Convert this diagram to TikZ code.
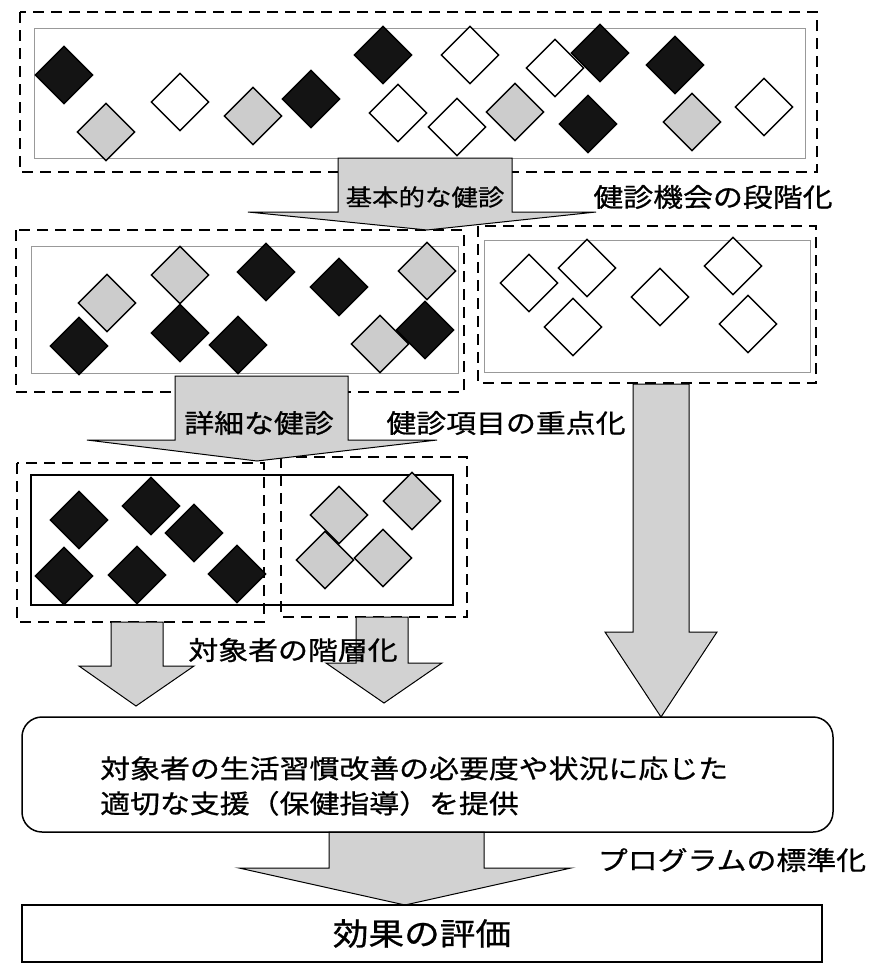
\documentclass[tikz,border=0pt]{standalone}
\usepackage{fontspec}
\newfontfamily\jpfont[FakeStretch=1.15,FakeBold=0.8]{Noto Sans CJK JP}
\usetikzlibrary{shapes.geometric}
\usetikzlibrary{positioning}

\begin{document}
\begin{tikzpicture}[x=1pt,y=-1pt,
    dia/.style={diamond,aspect=1,minimum size=58pt,inner sep=0pt,draw,line width=1.4pt},
    blk dia/.style={dia,fill=black!92},
    gry dia/.style={dia,fill=gray!40},
    wht dia/.style={dia,fill=white},
    dash box/.style={draw,line width=2.2pt,dash pattern=on 11pt off 7pt},
    in box/.style={draw=gray!80,line width=1pt},
    blk arrow/.style={draw,line width=1pt,fill=gray!35},
    lbl node/.style={font=\jpfont\fontsize{26}{35}\selectfont,inner sep=0pt}
    ]
    \useasboundingbox (0,0) rectangle (878,964);

    % step 1: all
    \draw[dash box] (20,12) rectangle (817,172);
    \draw[in box] (34,28) rectangle (805,158);
    \node[wht dia](a1) at (180,102){};
    \node[wht dia](a2) at (470,55){};
    \node[wht dia](a3) at (555,68){};
    \node[wht dia](a4) at (398,113){};
    \node[wht dia](a5) at (457,127){};
    \node[wht dia](a6) at (764,107){};
    \node[blk dia](a7) at (64,75){};
    \node[blk dia](a8) at (311,99){};
    \node[blk dia](a9) at (383,55){};
    \node[blk dia](a10) at (600,53){};
    \node[blk dia](a11) at (675,65){};
    \node[blk dia](a12) at (588,124){};
    \node[gry dia](a13) at (106,132){};
    \node[gry dia](a14) at (253,116){};
    \node[gry dia](a15) at (515,112){};
    \node[gry dia](a16) at (692,122){};

    % step 2: basic check
    \draw[dash box] (16,230) rectangle (464,392);
    \draw[in box] (31,246) rectangle (458,373);
    \draw[dash box] (478,226) rectangle (816,383);
    \draw[in box] (484,240) rectangle (810,372);
    \node[blk dia](b1) at (266,272){};
    \node[blk dia](b2) at (339,287){};
    \node[blk dia](b3) at (79,346){};
    \node[blk dia](b4) at (180,333){};
    \node[blk dia](b5) at (238,345){};
    \node[blk dia](b6) at (425,330){};
    \node[gry dia](b7) at (107,303){};
    \node[gry dia](b8) at (180,275){};
    \node[gry dia](b9) at (427,271){};
    \node[gry dia](b10) at (380,344){};
    \node[wht dia](b11) at (529,283){};
    \node[wht dia](b12) at (587,268){};
    \node[wht dia](b13) at (660,297){};
    \node[wht dia](b14) at (733,266){};
    \node[wht dia](b15) at (573,327){};
    \node[wht dia](b16) at (748,324){};

    % step 3: detailed check
    \draw[dash box] (17,463) rectangle (264,622);
    \draw[dash box] (281,457) rectangle (467,617);
    \draw[line width=1.5pt] (31,475) rectangle (453,605);
    \node[blk dia](c1) at (79,520){};
    \node[blk dia](c2) at (151,506){};
    \node[blk dia](c3) at (194,533){};
    \node[blk dia](c4) at (64,576){};
    \node[blk dia](c5) at (137,575){};
    \node[blk dia](c6) at (237,574){};
    \node[gry dia](c7) at (339,515){};
    \node[gry dia](c8) at (412,501){};
    \node[gry dia](c9) at (325,560){};
    \node[gry dia](c10) at (383,558){};

    % big arrows
    \draw[blk arrow] (338,158) -- (338,212) -- (248,212) -- (427,230) -- (596,212) -- (512,212) -- (512,158) -- cycle;
    \draw[blk arrow] (175,376) -- (175,440) -- (87,440) -- (257,461) -- (437,440) -- (348,440) -- (348,376) -- cycle;
    \draw[blk arrow] (633,384) -- (633,632) -- (605,632) -- (661,717) -- (717,632) -- (689,632) -- (689,384) -- cycle;
    \draw[blk arrow] (111,622) -- (111,666) -- (79,666) -- (136,706) -- (194,666) -- (163,666) -- (163,622) -- cycle;
    \draw[blk arrow] (356,617) -- (356,663) -- (326,663) -- (384,703) -- (442,663) -- (408,663) -- (408,617) -- cycle;
    \draw[blk arrow] (329,832) -- (329,868) -- (239,868) -- (405,905) -- (571,868) -- (484,868) -- (484,832) -- cycle;

    % boxes
    \node[draw,line width=1.5pt,rounded corners=20pt,minimum width=811pt,minimum height=115pt](support) at (427.5,774.5){};
    \node[lbl node,anchor=west,align=left](support txt) at (100,786){対象者の生活習慣改善の必要度や状況に応じた\\適切な支援（保健指導）を提供};
    \node[draw,line width=1.3pt,minimum width=800pt,minimum height=57pt,font=\jpfont\fontsize{31}{36}\selectfont](eval) at (422,933.5){効果の評価};

    % labels
    \node[lbl node,font=\jpfont\fontsize{23}{28}\selectfont](basic) at (425,197){基本的な健診};
    \node[lbl node](stage) at (713,197){健診機会の段階化};
    \node[lbl node](detail) at (259,423){詳細な健診};
    \node[lbl node](focus) at (506,423){健診項目の重点化};
    \node[lbl node](layer) at (293,650){対象者の階層化};
    \node[lbl node](std) at (732,860){プログラムの標準化};
\end{tikzpicture}
\end{document}
